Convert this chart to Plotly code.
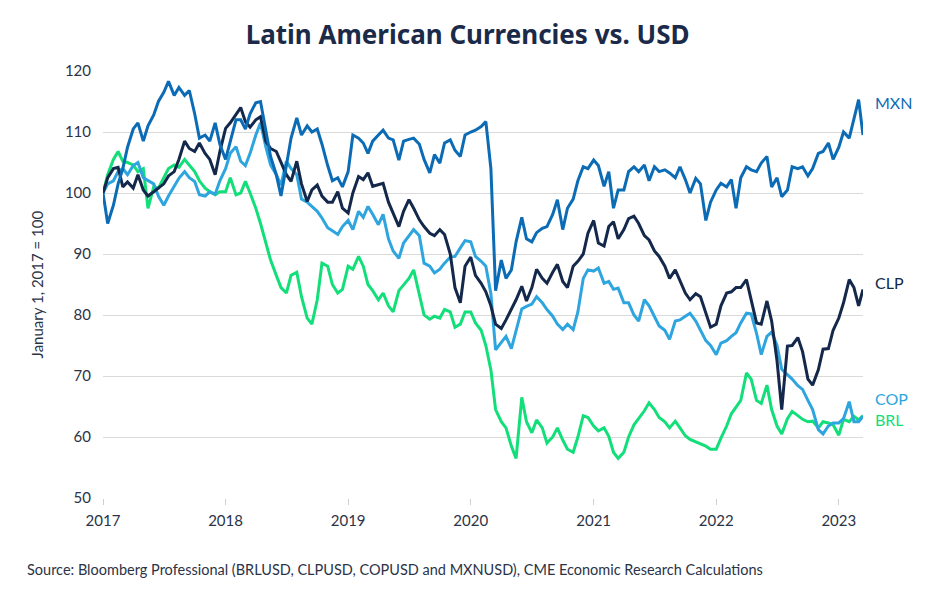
import pandas as pd
import plotly.graph_objects as go

# Semi-monthly observation dates (1st and 15th), plus final observation
dates = list(pd.date_range("2017-01-01", "2023-03-01", freq="SMS")) + [pd.Timestamp("2023-03-14")]

mxn = [
    100.0, 95.0, 98.0, 101.5, 104.0, 107.5, 110.5, 111.5, 108.5, 111.0, 112.8, 115.0,
    116.5, 118.3, 116.0, 117.3, 116.0, 116.8, 113.0, 109.0, 109.5, 108.5, 111.5, 108.0,
    105.5, 108.5, 112.0, 112.0, 110.5, 113.0, 114.8, 115.0, 110.0, 106.0, 103.0, 99.5,
    104.5, 109.0, 112.3, 109.5, 111.0, 110.0, 110.5, 108.0, 104.5, 102.0, 102.5, 101.0,
    103.5, 109.5, 109.0, 108.2, 106.5, 108.5, 109.5, 110.3, 109.0, 108.7, 105.4, 108.5,
    108.8, 109.0, 108.0, 105.5, 103.3, 106.3, 104.9, 108.2, 108.7, 107.0, 106.0, 109.5,
    110.0, 110.3, 110.9, 111.7, 104.0, 84.0, 89.0, 86.0, 87.4, 92.0, 96.0, 92.5,
    92.0, 93.5, 94.2, 94.5, 96.5, 98.9, 94.0, 97.5, 99.0, 102.0, 104.3, 104.0,
    105.4, 104.5, 101.1, 103.5, 97.5, 100.5, 100.5, 103.5, 104.3, 103.5, 104.6, 102.0,
    104.3, 103.5, 103.8, 103.3, 102.5, 104.3, 102.2, 100.0, 102.4, 101.5, 95.5, 98.5,
    100.5, 101.6, 101.0, 102.2, 97.5, 102.5, 104.3, 103.8, 103.5, 104.9, 106.0, 101.0,
    102.5, 99.4, 100.5, 104.3, 104.0, 104.3, 102.8, 104.0, 106.5, 106.8, 108.2, 105.5,
    107.5, 110.0, 109.0, 112.0, 115.3, 109.5,
]

clp = [
    100.0, 102.5, 104.0, 104.2, 101.0, 101.8, 100.8, 103.0, 100.5, 99.5, 100.2, 100.8,
    101.5, 102.8, 103.5, 105.5, 108.5, 107.3, 106.8, 108.2, 106.5, 105.5, 103.0, 106.8,
    110.6, 111.5, 112.8, 114.0, 111.7, 110.8, 112.0, 112.5, 108.4, 107.3, 106.8, 105.0,
    103.0, 101.9, 105.2, 101.5, 98.6, 100.5, 101.3, 99.5, 98.5, 98.5, 100.2, 97.5,
    96.7, 100.0, 102.7, 102.2, 103.3, 101.1, 101.4, 101.6, 98.5, 96.7, 94.5, 97.0,
    98.9, 97.5, 95.6, 94.5, 93.4, 93.0, 94.0, 93.2, 90.0, 84.5, 82.0, 88.0,
    89.5, 86.5, 85.2, 83.8, 81.5, 78.5, 77.8, 79.2, 80.9, 82.5, 84.7, 82.3,
    84.5, 87.5, 86.0, 85.2, 87.0, 88.3, 85.5, 84.5, 88.0, 88.8, 90.0, 93.4,
    95.5, 91.8, 91.3, 94.5, 95.3, 92.5, 94.0, 95.8, 96.2, 95.0, 93.0, 92.3,
    90.5, 89.6, 88.0, 86.0, 87.4, 85.5, 83.6, 82.5, 83.5, 83.0, 80.5, 78.0,
    78.5, 81.5, 83.6, 83.8, 84.5, 84.5, 85.8, 82.5, 78.7, 78.5, 82.3, 79.0,
    72.5, 64.5, 74.9, 75.0, 76.3, 74.0, 69.5, 68.5, 71.0, 74.4, 74.5, 77.5,
    79.5, 82.0, 85.8, 84.5, 81.5, 84.2,
]

cop = [
    100.0, 101.5, 102.0, 103.5, 104.0, 103.0, 104.5, 105.0, 102.5, 102.0, 101.5, 99.5,
    98.0, 99.5, 101.0, 102.4, 103.5, 102.5, 101.9, 99.7, 99.5, 100.2, 99.8, 102.0,
    104.0, 106.5, 107.6, 105.2, 104.5, 106.5, 109.5, 111.5, 107.5, 104.6, 103.0, 101.3,
    105.2, 104.0, 103.0, 99.0, 98.5, 97.8, 97.0, 95.9, 94.3, 93.8, 93.2, 94.5,
    95.5, 94.0, 97.0, 96.0, 97.8, 96.5, 94.8, 96.5, 92.5, 90.5, 89.3, 91.8,
    92.9, 94.0, 93.0, 88.5, 88.0, 86.9, 87.5, 88.5, 89.5, 89.6, 91.0, 92.2,
    92.0, 89.6, 88.8, 88.0, 83.5, 74.3, 75.5, 76.5, 74.5, 77.5, 81.0, 81.4,
    81.8, 83.0, 82.0, 80.9, 79.8, 78.5, 77.6, 78.5, 77.6, 80.5, 86.0, 87.4,
    87.2, 87.7, 85.2, 85.5, 84.2, 84.4, 82.0, 82.0, 80.0, 79.0, 82.5, 81.5,
    79.8, 78.2, 77.5, 76.0, 79.0, 79.2, 79.8, 80.3, 79.0, 77.6, 75.8, 75.0,
    73.5, 75.4, 75.8, 76.5, 77.1, 78.7, 80.3, 80.2, 77.0, 73.5, 76.5, 77.2,
    75.0, 71.1, 70.3, 69.5, 68.4, 67.8, 66.0, 64.5, 61.2, 60.5, 61.8, 62.3,
    62.3, 63.0, 65.8, 62.5, 62.5, 63.4,
]

brl = [
    100.0, 103.0, 105.5, 106.8, 105.2, 105.0, 104.6, 103.5, 104.0, 97.5, 101.0, 100.8,
    102.5, 104.0, 104.6, 104.2, 105.5, 104.5, 103.5, 102.0, 100.8, 100.2, 99.7, 100.2,
    100.2, 102.5, 99.7, 100.0, 101.9, 100.0, 97.5, 95.0, 92.0, 89.0, 86.5, 84.5,
    83.6, 86.5, 87.0, 83.0, 79.5, 78.5, 82.5, 88.5, 88.0, 85.0, 83.6, 84.2,
    88.0, 87.5, 89.6, 88.0, 85.0, 84.0, 82.5, 83.6, 81.5, 80.5, 84.0, 85.0,
    86.0, 87.4, 83.5, 80.0, 79.3, 79.8, 79.5, 80.9, 80.5, 78.0, 78.5, 80.5,
    80.5, 78.7, 77.5, 75.0, 71.0, 64.5, 62.5, 61.5, 58.5, 56.5, 66.5, 62.5,
    60.7, 62.8, 61.5, 59.0, 60.0, 61.5, 59.5, 58.0, 57.5, 60.0, 63.5, 63.2,
    61.8, 61.0, 61.5, 60.1, 57.5, 56.5, 57.5, 60.0, 62.0, 63.0, 64.3, 65.6,
    64.5, 63.2, 62.5, 61.5, 62.6, 61.5, 60.2, 59.6, 59.2, 59.0, 58.5, 58.0,
    58.0, 59.8, 61.8, 63.8, 64.8, 66.0, 70.5, 69.5, 66.0, 65.5, 68.5, 64.5,
    61.8, 60.5, 63.0, 64.2, 63.5, 62.9, 62.5, 62.6, 61.5, 62.5, 62.3, 62.0,
    60.3, 62.9, 62.5, 63.4, 62.8, 63.5,
]

series_names = ["BRL", "COP", "CLP", "MXN"]
series_values = [brl, cop, clp, mxn]
series_colors = ["#12df79", "#2ea5de", "#13284a", "#0b6cb5"]
label_y = [62.9, 66.3, 85.3, 114.9]

year_ticks = ["2017-01-01", "2018-01-01", "2019-01-01", "2020-01-01",
              "2021-01-01", "2022-01-01", "2023-01-01"]
year_labels = ["2017", "2018", "2019", "2020", "2021", "2022", "2023"]
y_ticks = [50, 60, 70, 80, 90, 100, 110, 120]

FONT = "Lato"
TEXT = "#2b3346"

fig = go.Figure()
for name, vals, col in zip(series_names, series_values, series_colors):
    fig.add_trace(go.Scatter(x=dates, y=vals, mode="lines", name=name,
                             line=dict(color=col, width=3), showlegend=False))

for name, ly, col in zip(series_names, label_y, series_colors):
    fig.add_annotation(xref="paper", yref="y", x=1.013, y=ly, text=name,
                       showarrow=False, xanchor="left", yanchor="middle",
                       font=dict(family=FONT, size=16, color=col))

fig.add_annotation(xref="paper", yref="paper", x=-0.087, y=0.5,
                   text="January 1, 2017 = 100", textangle=-90, showarrow=False,
                   xanchor="center", yanchor="middle",
                   font=dict(family=FONT, size=15, color=TEXT))

fig.add_annotation(xref="paper", yref="paper", x=-0.103, y=-0.167,
                   text="Source: Bloomberg Professional (BRLUSD, CLPUSD, COPUSD and MXNUSD), CME Economic Research Calculations",
                   showarrow=False, xanchor="left", yanchor="middle",
                   font=dict(family=FONT, size=14.5, color=TEXT))

fig.update_layout(
    width=940, height=600,
    margin=dict(l=95, r=85, t=63, b=110),
    paper_bgcolor="white", plot_bgcolor="white",
    title=dict(text="<b>Latin American Currencies vs. USD</b>", x=0.489, xanchor="center",
               y=0.955, yanchor="middle",
               font=dict(family="Noto Sans", size=26, color="#1b2a48")),
    xaxis=dict(range=["2017-01-01", "2023-03-14"], tickvals=year_ticks, ticktext=year_labels,
               showgrid=False, zeroline=False, showline=False,
               ticks="outside", ticklen=6, tickcolor="#cfcfcf", tickwidth=1,
               ticklabelstandoff=3,
               tickfont=dict(family=FONT, size=15, color=TEXT)),
    yaxis=dict(range=[50, 120], tickvals=y_ticks, showgrid=True, gridcolor="#dadada",
               gridwidth=1, zeroline=False, showline=False, ticks="",
               ticklabelstandoff=11,
               tickfont=dict(family=FONT, size=15, color=TEXT)),
)

fig.write_html("out.html")
